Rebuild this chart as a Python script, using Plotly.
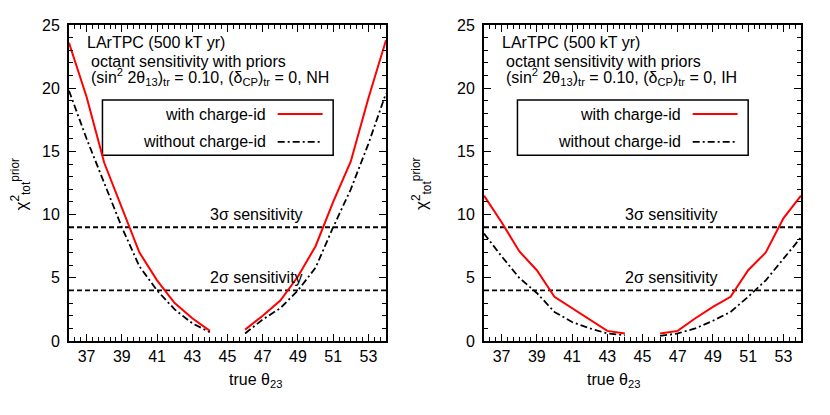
import plotly.graph_objects as go
from plotly.subplots import make_subplots

# true theta23 (degrees); no point at maximal mixing (45)
theta = [36, 37, 38, 39, 40, 41, 42, 43, 44, 45, 46, 47, 48, 49, 50, 51, 52, 53, 54]

nh_with = [23.6, 19.3, 14.1, 10.6, 7.0, 4.8, 3.0, 1.8, 0.8, None,
           0.9, 2.0, 3.2, 5.1, 7.5, 11.0, 14.2, 19.2, 23.8]
nh_without = [19.8, 16.0, 12.5, 9.0, 5.9, 4.0, 2.5, 1.4, 0.7, None,
              0.6, 1.7, 2.6, 4.0, 5.8, 9.0, 12.0, 15.6, 19.6]
ih_with = [11.5, 9.4, 7.1, 5.6, 3.5, 2.6, 1.7, 0.8, 0.6, None,
           0.6, 0.8, 1.8, 2.7, 3.5, 5.6, 7.0, 9.7, 11.5]
ih_without = [8.5, 6.7, 5.0, 3.8, 2.3, 1.5, 1.0, 0.6, 0.45, None,
              0.4, 0.6, 1.0, 1.6, 2.3, 3.5, 4.8, 6.5, 8.2]

sigma_levels = [9, 4]
sigma_labels = ["3σ sensitivity", "2σ sensitivity"]
hierarchies = ["NH", "IH"]
x_ticks = [37, 39, 41, 43, 45, 47, 49, 51, 53]
y_ticks = [0, 5, 10, 15, 20, 25]

FONT = "Liberation Sans, Arial, Helvetica, sans-serif"
FS = 16
RED = "#ff0000"
DASHDOT = "7px,3px,2px,3px"
W, H = 830, 415
OFF = 8  # page body margin pushes the figure by this much


def px_x(p):
    return (p - OFF) / W


def px_y(p):
    return 1 - (p - OFF) / H


fig = make_subplots(rows=1, cols=2)

panels = [(nh_with, nh_without), (ih_with, ih_without)]
for i, (w, wo) in enumerate(panels):
    col = i + 1
    for lev in sigma_levels:
        fig.add_trace(go.Scatter(x=[36, 54], y=[lev, lev], mode="lines",
                                 line=dict(color="black", width=1.8, dash="5px,3px"),
                                 showlegend=False, hoverinfo="skip"), row=1, col=col)
    fig.add_trace(go.Scatter(x=theta, y=wo, mode="lines", connectgaps=False,
                             line=dict(color="black", width=1.8, dash=DASHDOT),
                             showlegend=False), row=1, col=col)
    fig.add_trace(go.Scatter(x=theta, y=w, mode="lines", connectgaps=False,
                             line=dict(color=RED, width=2),
                             showlegend=False), row=1, col=col)

axis_common = dict(showline=True, linecolor="black", linewidth=2, mirror="allticks",
                   ticks="inside", ticklen=7, tickwidth=1, tickcolor="black",
                   showgrid=False, zeroline=False, automargin=False,
                   tickfont=dict(family=FONT, size=FS, color="black"))

x_domains = [[px_x(69), px_x(386)], [px_x(484), px_x(801)]]
y_domain = [px_y(341), px_y(25)]

for i in range(2):
    sfx = "" if i == 0 else str(i + 1)
    fig.layout["xaxis" + sfx].update(
        range=[36, 54], tickmode="array", tickvals=x_ticks, domain=x_domains[i],
        minor=dict(ticks="inside", ticklen=4, tickcolor="black", dtick=1 / 3, tick0=36),
        **axis_common)
    fig.layout["yaxis" + sfx].update(
        range=[0, 25], tickmode="array", tickvals=y_ticks, domain=y_domain,
        ticklabelstandoff=4,
        minor=dict(ticks="inside", ticklen=4, tickcolor="black", dtick=1, tick0=0),
        **axis_common)

annotations = []
shapes = []
for i, hier in enumerate(hierarchies):
    xr = "x" if i == 0 else "x2"
    yr = "y" if i == 0 else "y2"
    txt = dict(xref=xr, yref=yr, showarrow=False, xanchor="left",
               font=dict(family=FONT, size=FS, color="black"))
    annotations.append(dict(text="LArTPC (500 kT yr)", x=36.9, y=23.6, **txt))
    annotations.append(dict(text="octant sensitivity with priors", x=37.15, y=22.15, **txt))
    annotations.append(dict(
        text="(sin<sup>2</sup> 2θ<sub>13</sub>)<sub>tr</sub> = 0.10, "
             "(δ<sub>CP</sub>)<sub>tr</sub> = 0, " + hier,
        x=37.15, y=20.85, **txt))
    for lev, lab in zip(sigma_levels, sigma_labels):
        annotations.append(dict(text=lab, x=43.9, y=lev + 1.0, **txt))

    # key box
    shapes.append(dict(type="rect", xref=xr, yref=yr, x0=37.9, x1=51.0, y0=14.7, y1=19.07,
                       line=dict(color="black", width=1.5), fillcolor="white", layer="below"))
    shapes.append(dict(type="line", xref=xr, yref=yr, x0=47.85, x1=50.4, y0=17.95, y1=17.95,
                       line=dict(color=RED, width=2)))
    shapes.append(dict(type="line", xref=xr, yref=yr, x0=47.85, x1=50.4, y0=15.75, y1=15.75,
                       line=dict(color="black", width=1.8, dash=DASHDOT)))
    key = dict(xref=xr, yref=yr, showarrow=False, xanchor="right",
               font=dict(family=FONT, size=FS, color="black"))
    annotations.append(dict(text="with charge-id", x=47.3, y=17.95, **key))
    annotations.append(dict(text="without charge-id", x=47.3, y=15.75, **key))

    # axis titles
    annotations.append(dict(text="true θ<sub>23</sub>", xref="paper", yref="paper",
                            x=px_x(227 + 415 * i), y=px_y(392), showarrow=False,
                            font=dict(family=FONT, size=FS, color="black")))
    annotations.append(dict(text="χ<sup>2</sup><sub>tot</sub><sup>prior</sup>",
                            xref="paper", yref="paper", textangle=-90,
                            x=px_x(6 + 415 * i), y=px_y(184), showarrow=False,
                            font=dict(family=FONT, size=17, color="black")))

fig.update_layout(width=W, height=H, margin=dict(l=0, r=0, t=0, b=0),
                  plot_bgcolor="white", paper_bgcolor="white",
                  annotations=annotations, shapes=shapes, showlegend=False)

fig.write_html("out.html")
